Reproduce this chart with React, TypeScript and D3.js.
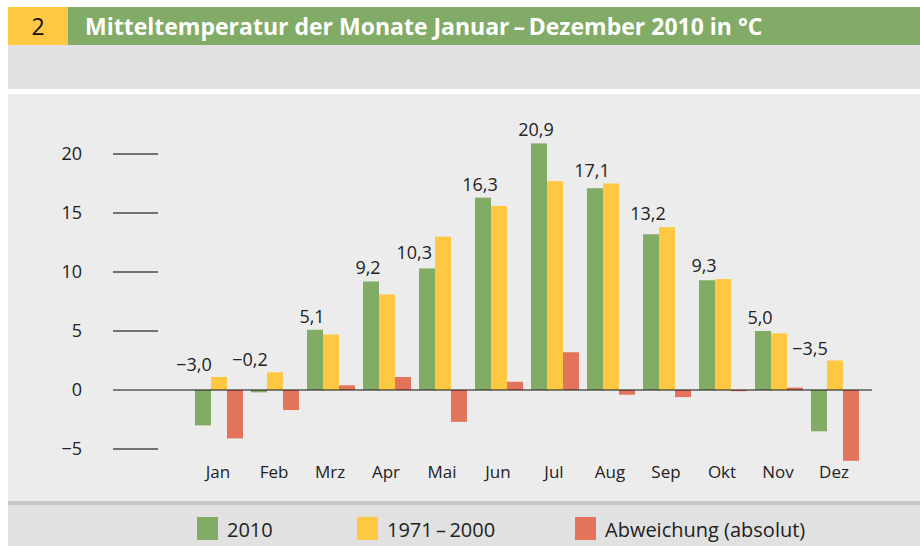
import React from "react";
import * as d3 from "d3";

const months = ["Jan", "Feb", "Mrz", "Apr", "Mai", "Jun", "Jul", "Aug", "Sep", "Okt", "Nov", "Dez"];
const temp2010 = [-3.0, -0.2, 5.1, 9.2, 10.3, 16.3, 20.9, 17.1, 13.2, 9.3, 5.0, -3.5];
const norm = [1.1, 1.5, 4.7, 8.1, 13.0, 15.6, 17.7, 17.5, 13.8, 9.4, 4.8, 2.5];
const deviation = [-4.1, -1.7, 0.4, 1.1, -2.7, 0.7, 3.2, -0.4, -0.6, -0.1, 0.2, -6.0];
const yTicks = [-5, 0, 5, 10, 15, 20];
const seriesNames = ["2010", "1971\u2009\u2013\u20092000", "Abweichung (absolut)"];
const title = "Mitteltemperatur der Monate Januar\u2009\u2013\u2009Dezember 2010 in \u00b0C";

const C_GREEN = "#82ab66";
const C_YELLOW = "#fec843";
const C_RED = "#e3735a";
const FONT = "'Open Sans', 'Noto Sans', sans-serif";

export default function App() {
  const W = 920, H = 546;
  const y = d3.scaleLinear().domain([-5, 20]).range([449, 154]);
  const x = d3.scaleBand<string>().domain(months).range([195, 859]).paddingInner(8 / 56).paddingOuter(0);
  const sub = d3.scaleBand<number>().domain([0, 1, 2]).range([0, x.bandwidth()]);
  const series = [temp2010, norm, deviation];
  const colors = [C_GREEN, C_YELLOW, C_RED];
  const fmt = (v: number) => (v < 0 ? "\u2212" : "") + Math.abs(v).toFixed(1).replace(".", ",");
  const legendX = [197, 357, 575];

  return (
    <svg width={W} height={H} style={{ position: "absolute", left: 0, top: 0 }} fontFamily={FONT}>
      <rect x={0} y={0} width={W} height={H} fill="#ffffff" />
      {/* header */}
      <rect x={8} y={7} width={60} height={38} fill={C_YELLOW} />
      <rect x={68} y={7} width={W - 68} height={38} fill="#82ab67" />
      <text x={38} y={35} textAnchor="middle" fontSize={23} fill="#111">2</text>
      <text x={85} y={35} fontSize={23} fontWeight="bold" fill="#ffffff">{title}</text>
      <rect x={8} y={45} width={W - 8} height={44} fill="#e1e1e1" />
      {/* chart panel */}
      <rect x={8} y={94} width={W - 8} height={407} fill="#ececec" />
      <rect x={8} y={501} width={W - 8} height={4} fill="#c6c7c6" />
      <rect x={8} y={505} width={W - 8} height={41} fill="#e1e1e1" />

      {/* y ticks */}
      {yTicks.map((t) => (
        <g key={t}>
          {t !== 0 && <line x1={113} x2={158} y1={y(t)} y2={y(t)} stroke="#4a4a4a" strokeWidth={1.3} />}
          <text x={82} y={y(t)} dy="0.36em" textAnchor="end" fontSize={18} fill="#222">
            {t < 0 ? "\u2212" + Math.abs(t) : t}
          </text>
        </g>
      ))}

      {/* bars */}
      {months.map((m, i) => (
        <g key={m} transform={`translate(${x(m)},0)`}>
          {series.map((s, k) => {
            const v = s[i];
            const y0 = y(0), y1 = y(v);
            return (
              <rect key={k} x={sub(k)} width={sub.bandwidth()} y={Math.min(y0, y1)} height={Math.abs(y1 - y0)} fill={colors[k]} />
            );
          })}
        </g>
      ))}

      {/* zero line */}
      <line x1={113} x2={872} y1={y(0)} y2={y(0)} stroke="#111" strokeWidth={1.2} />

      {/* value labels */}
      {months.map((m, i) => {
        const v = temp2010[i];
        const n = norm[i];
        const gx = (x(m) as number) + (sub(0) as number);
        const gc = gx + sub.bandwidth() / 2;
        let lx = gc - 3, ly = 0, anchor: "middle" | "end" = "middle";
        if (v < 0) {
          lx = gc - 9;
          ly = y(Math.max(n, 0)) - 6;
        } else if (n - v > 1.5) {
          lx = gx + sub.bandwidth() - 3;
          anchor = "end";
          ly = y(v) - 9;
        } else {
          ly = Math.min(y(v), y(n)) - 7;
        }
        return (
          <text key={m} x={lx} y={ly} textAnchor={anchor} fontSize={18} fill="#222">{fmt(v)}</text>
        );
      })}

      {/* month labels */}
      {months.map((m) => (
        <text key={m} x={(x(m) as number) + x.bandwidth() / 2 - 1} y={478} textAnchor="middle" fontSize={17} fill="#222">{m}</text>
      ))}

      {/* legend */}
      {seriesNames.map((name, k) => (
        <g key={name}>
          <rect x={legendX[k]} y={517} width={21} height={23} fill={colors[k]} />
          <text x={legendX[k] + 30} y={537} fontSize={20} fill="#222">{name}</text>
        </g>
      ))}
    </svg>
  );
}
